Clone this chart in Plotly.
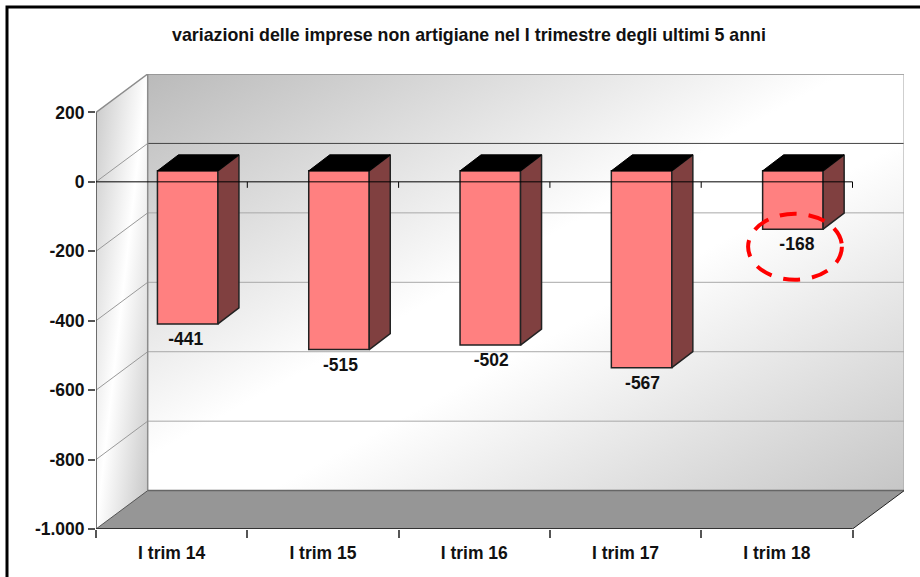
import urllib.parse
import plotly.graph_objects as go

categories = ["I trim 14", "I trim 15", "I trim 16", "I trim 17", "I trim 18"]
values = [-441, -515, -502, -567, -168]
y_ticks = [200, 0, -200, -400, -600, -800, -1000]
y_labels = ["200", "0", "-200", "-400", "-600", "-800", "-1.000"]
label_nudge_px = [-2, 1.5, 1, 1, 4]

FONT = "Liberation Sans"
PX_X = 151.3            # pixels per category
PX_Y = 416.6 / 1200     # pixels per value unit
W, H = 920, 577
L, T, R, B = 96, 74, 904, 529   # plot box incl. depth
WALL_DX = 51.7 / PX_X
WALL_DY = 38.4 / PX_Y
BAR_DX = 0.106
BAR_BASE = 11 / PX_Y
BAR_W = 60.5 / PX_X
SIDE_DX = 21 / PX_X
SIDE_DY = 16 / PX_Y
LABEL_DROP = 8 / PX_Y
X_MAX = (R - L) / PX_X
Y_MIN, Y_MAX = -1000, 200 + WALL_DY
n = len(categories)
centers = [i + 0.5 for i in range(n)]


def gradient_uri(w, h, stops, shape):
    st = "".join(f'<stop offset="{o}" stop-color="{c}"/>' for o, c in stops)
    svg = (f'<svg xmlns="http://www.w3.org/2000/svg" width="{w}" height="{h}" '
           f'viewBox="0 0 {w} {h}" preserveAspectRatio="none"><defs>'
           f'<linearGradient id="g" x1="0" y1="0" x2="1" y2="1">{st}</linearGradient>'
           f'</defs>{shape}</svg>')
    return "data:image/svg+xml," + urllib.parse.quote(svg)


back_stops = [(0, "#bababa"), (0.46, "#ffffff"), (0.58, "#ffffff"), (1, "#c6c6c6")]
side_stops = [(0, "#c8c8c8"), (0.5, "#ffffff"), (1, "#c4c4c4")]
back_uri = gradient_uri(756, 417, back_stops, '<rect width="756" height="417" fill="url(#g)"/>')
side_uri = gradient_uri(51, 454, side_stops, '<polygon points="0,38 51,0 51,417 0,455" fill="url(#g)"/>')

images = [
    dict(source=back_uri, xref="x", yref="y", x=WALL_DX, y=200 + WALL_DY, sizex=n,
         sizey=1200, sizing="stretch", xanchor="left", yanchor="top", layer="below"),
    dict(source=side_uri, xref="x", yref="y", x=0, y=200 + WALL_DY, sizex=WALL_DX,
         sizey=1200 + WALL_DY, sizing="stretch", xanchor="left", yanchor="top", layer="below"),
]


def line(x0, y0, x1, y1, color, width, layer="between"):
    return dict(type="line", xref="x", yref="y", x0=x0, y0=y0, x1=x1, y1=y1,
                line=dict(color=color, width=width), layer=layer)


shapes = []
# floor
shapes.append(dict(
    type="path", xref="x", yref="y", layer="between", fillcolor="#969696", line=dict(width=0),
    path=f"M0,{Y_MIN} L{WALL_DX},{Y_MIN + WALL_DY} L{n + WALL_DX},{Y_MIN + WALL_DY} L{n},{Y_MIN} Z"))
# gridlines on back wall and side wall
for v in y_ticks:
    if v in (-1000, 200):
        continue
    col = "#444444" if v == 0 else "#a8a8a8"
    shapes.append(line(WALL_DX, v + WALL_DY, n + WALL_DX, v + WALL_DY, col, 1))
    shapes.append(line(0, v, WALL_DX, v + WALL_DY, "#999999", 1))
# wall outline
shapes.append(line(WALL_DX, 200 + WALL_DY, n + WALL_DX, 200 + WALL_DY, "#8c8c8c", 1.5))
shapes.append(line(n + WALL_DX, 200 + WALL_DY, n + WALL_DX, Y_MIN + WALL_DY, "#a8a8a8", 1.5))
shapes.append(line(WALL_DX, 200 + WALL_DY, WALL_DX, Y_MIN + WALL_DY, "#8c8c8c", 1.5))
shapes.append(line(0, 200, WALL_DX, 200 + WALL_DY, "#8c8c8c", 1.5))
shapes.append(line(WALL_DX, Y_MIN + WALL_DY, n + WALL_DX, Y_MIN + WALL_DY, "#666666", 1.5))
shapes.append(line(0, Y_MIN, WALL_DX, Y_MIN + WALL_DY, "#555555", 1))
shapes.append(line(n, Y_MIN, n + WALL_DX, Y_MIN + WALL_DY, "#222222", 1))
shapes.append(line(0, 200, 0, Y_MIN, "#444444", 1.5))
shapes.append(line(0, Y_MIN, n, Y_MIN, "#333333", 2))
# outer frame
shapes.append(dict(type="rect", xref="paper", yref="paper", layer="below",
                   x0=(7 - L) / (R - L), x1=(W + 40 - L) / (R - L),
                   y0=(B - (H + 40)) / (B - T), y1=(B - 7) / (B - T),
                   line=dict(color="black", width=3), fillcolor="rgba(0,0,0,0)"))
# highlight ellipse around the last value
shapes.append(dict(type="circle", xref="x", yref="y", layer="above",
                   x0=4.31, x1=4.93, y0=-282, y1=-92,
                   line=dict(color="#ff0000", width=4, dash="17px,12px")))

fig = go.Figure()
fig.add_trace(go.Bar(
    x=[c + BAR_DX for c in centers], y=values, base=BAR_BASE, width=BAR_W,
    marker=dict(color="#ff8080", line=dict(color="#222222", width=1.5)),
    hoverinfo="skip", showlegend=False))

EDGE = dict(color="#222222", width=1.5)
for c, v in zip(centers, values):
    xr = c + BAR_DX + BAR_W / 2
    xl = c + BAR_DX - BAR_W / 2
    top = BAR_BASE
    bot = BAR_BASE + v
    fig.add_trace(go.Scatter(
        x=[xr, xr + SIDE_DX, xr + SIDE_DX, xr, xr], y=[top, top + SIDE_DY, bot + SIDE_DY, bot, top],
        mode="lines", fill="toself", fillcolor="#804040", line=EDGE,
        hoverinfo="skip", showlegend=False))
    fig.add_trace(go.Scatter(
        x=[xl, xl + SIDE_DX, xr + SIDE_DX, xr, xl], y=[top, top + SIDE_DY, top + SIDE_DY, top, top],
        mode="lines", fill="toself", fillcolor="#000000", line=dict(color="#000000", width=1),
        hoverinfo="skip", showlegend=False))

# zero axis line with its ticks, drawn over the bars
tick_drop = 6 / PX_Y
zx, zy = [0, n], [0, 0]
for i in range(1, n + 1):
    zx += [None, i, i]
    zy += [None, 0, -tick_drop]
fig.add_trace(go.Scatter(x=zx, y=zy, mode="lines", line=dict(color="#000000", width=1),
                         hoverinfo="skip", showlegend=False))

fig.add_trace(go.Scatter(
    x=[c + BAR_DX + d / PX_X for c, d in zip(centers, label_nudge_px)],
    y=[BAR_BASE + v - LABEL_DROP for v in values],
    mode="text", text=[str(v) for v in values], textposition="bottom center",
    textfont=dict(family=FONT, size=17.5, color="#111111", weight="bold"),
    hoverinfo="skip", showlegend=False))

fig.update_layout(
    width=W, height=H, autosize=False,
    margin=dict(l=L, r=W - R, t=T, b=H - B, pad=0),
    paper_bgcolor="white", plot_bgcolor="rgba(0,0,0,0)",
    images=images, shapes=shapes, showlegend=False, barmode="overlay",
    title=dict(text="<b>variazioni delle imprese non artigiane nel I trimestre degli ultimi 5 anni</b>",
               x=469 / W, xanchor="center", y=1 - 35 / H, yanchor="middle",
               font=dict(family=FONT, size=17.8, color="#111111")),
    xaxis=dict(range=[0, X_MAX], tickvals=centers, ticktext=categories, ticks="",
               showgrid=False, zeroline=False, showline=False, ticklabelstandoff=11,
               tickfont=dict(family=FONT, size=17.5, color="#111111", weight="bold"),
               minor=dict(tickvals=list(range(n + 1)), ticks="outside", ticklen=8,
                          tickcolor="#555555", tickwidth=1.5, showgrid=False)),
    yaxis=dict(range=[Y_MIN, Y_MAX], tickvals=y_ticks, ticktext=y_labels, ticks="outside",
               ticklen=7, tickcolor="#555555", tickwidth=1.5, showgrid=False, zeroline=False,
               showline=False, tickfont=dict(family=FONT, size=17.5, color="#111111", weight="bold")),
)

fig.write_html("out.html", config=dict(displayModeBar=False),
               post_script="document.body.style.margin='0';document.body.style.overflow='hidden';")
